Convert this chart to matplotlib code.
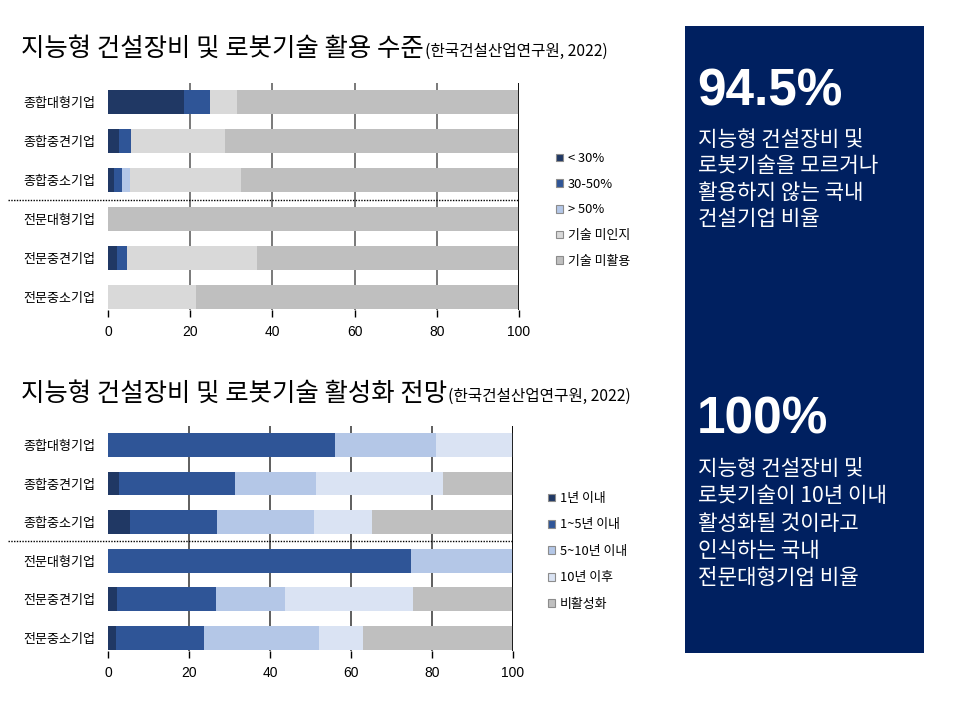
import matplotlib
matplotlib.use('Agg')
import matplotlib.pyplot as plt
import matplotlib.transforms as mtransforms
from matplotlib.patches import Rectangle
import numpy as np

plt.rcParams['font.family'] = ['Noto Sans CJK KR', 'DejaVu Sans']

# ---------------- data ----------------
categories = ['종합대형기업', '종합중견기업', '종합중소기업',
              '전문대형기업', '전문중견기업', '전문중소기업']

usage_labels = ['< 30%', '30-50%', '> 50%', '기술 미인지', '기술 미활용']
usage_lt30 = [18.5, 2.6, 1.5, 0.0, 2.1, 0.0]
usage_30_50 = [6.4, 3.0, 1.8, 0.0, 2.6, 0.0]
usage_gt50 = [0.0, 0.0, 2.0, 0.0, 0.0, 0.0]
usage_unaware = [6.4, 22.9, 27.0, 0.0, 31.6, 21.4]
usage_unused = [68.7, 71.5, 67.7, 100.0, 63.7, 78.6]

outlook_labels = ['1년 이내', '1~5년 이내', '5~10년 이내', '10년 이후', '비활성화']
outlook_1y = [0.0, 2.7, 5.4, 0.0, 2.1, 1.9]
outlook_1_5y = [56.1, 28.7, 21.6, 74.7, 24.5, 21.7]
outlook_5_10y = [24.9, 19.9, 23.8, 25.3, 17.0, 28.5]
outlook_10y_plus = [19.0, 31.5, 14.4, 0.0, 31.7, 10.9]
outlook_inactive = [0.0, 17.2, 34.8, 0.0, 24.7, 37.0]

xticks = [0, 20, 40, 60, 80, 100]

title1 = '지능형 건설장비 및 로봇기술 활용 수준'
title2 = '지능형 건설장비 및 로봇기술 활성화 전망'
source = '(한국건설산업연구원, 2022)'

stat1 = '94.5%'
desc1 = ['지능형 건설장비 및', '로봇기술을 모르거나', '활용하지 않는 국내', '건설기업 비율']
stat2 = '100%'
desc2 = ['지능형 건설장비 및', '로봇기술이 10년 이내', '활성화될 것이라고', '인식하는 국내', '전문대형기업 비율']

usage_colors = ['#203864', '#2F5597', '#B4C7E7', '#D9D9D9', '#BFBFBF']
outlook_colors = ['#203864', '#2F5597', '#B4C7E7', '#DAE3F3', '#BFBFBF']

W, H = 957, 709
fig = plt.figure(figsize=(W / 100, H / 100), dpi=100)


def fx(px):
    return px / W


def fy(py):
    return 1 - py / H


def draw_chart(ax, series, labels, colors, ylim, grid_color):
    y = np.arange(len(categories))
    left = np.zeros(len(categories))
    for vals, lab, col in zip(series, labels, colors):
        vals = np.asarray(vals, dtype=float)
        ax.barh(y, vals, left=left, height=0.62, color=col, label=lab,
                zorder=2, linewidth=0)
        left += vals
    ax.set_xlim(0, 100)
    ax.set_ylim(*ylim)
    ax.set_yticks(y)
    ax.set_yticklabels(categories, fontsize=9.4)
    ax.set_xticks(xticks)
    ax.set_xticklabels([str(t) for t in xticks], fontsize=10,
                       fontfamily='Liberation Sans')
    ax.tick_params(axis='y', length=0, pad=9)
    ax.tick_params(axis='x', direction='out', length=5, width=1,
                   color='black', pad=6)
    for s in ax.spines.values():
        s.set_visible(False)
    ax.set_axisbelow(True)
    ax.xaxis.grid(True, color=grid_color, linewidth=1.1, zorder=0)
    ax.get_xgridlines()[0].set_visible(False)
    ax.axvline(100, color='black', linewidth=1.2, zorder=3)
    # dotted separator between 종합 and 전문
    trans = mtransforms.blended_transform_factory(fig.transFigure, ax.transData)
    ax.plot([fx(8), ax.get_position().x1], [2.5, 2.5], transform=trans,
            color='black', linestyle=(0, (1, 1)), linewidth=1.0,
            clip_on=False, zorder=4)


# top chart: x 108..519, y 83..310
ax1 = fig.add_axes([fx(108), fy(310), fx(519) - fx(108), (310 - 83) / H])
draw_chart(ax1, [usage_lt30, usage_30_50, usage_gt50, usage_unaware, usage_unused],
           usage_labels, usage_colors, (5.33, -0.49), '#555555')

# bottom chart: x 108..513, y 426..651
ax2 = fig.add_axes([fx(108), fy(651), fx(513) - fx(108), (651 - 426) / H])
draw_chart(ax2, [outlook_1y, outlook_1_5y, outlook_5_10y, outlook_10y_plus, outlook_inactive],
           outlook_labels, outlook_colors, (5.34, -0.49), '#333333')


def add_legend(ax, x, ytop, spacing):
    handles, labs = ax.get_legend_handles_labels()
    leg = fig.legend(handles, labs, loc='upper left',
                     bbox_to_anchor=(fx(x), fy(ytop)),
                     bbox_transform=fig.transFigure,
                     frameon=False, fontsize=9.3, handlelength=0.55,
                     handleheight=0.55, handletextpad=0.35,
                     labelspacing=spacing, borderpad=0, borderaxespad=0)
    for h in leg.legend_handles:
        h.set_edgecolor('#8C8C8C')
        h.set_linewidth(0.8)
    return leg


add_legend(ax1, 556, 152, 0.98)
add_legend(ax2, 548, 492, 1.04)

# titles
renderer = fig.canvas.get_renderer()
for ttl, base in [(title1, 56), (title2, 401)]:
    t = fig.text(fx(21), fy(base), ttl, fontsize=18.3, fontweight='medium',
                 va='baseline', ha='left', color='black')
    bb = t.get_window_extent(renderer=renderer)
    fig.text(bb.x1 / W + fx(1), fy(base), source, fontsize=11.3,
             va='baseline', ha='left', color='black')

# right panel
fig.add_artist(Rectangle((fx(685), fy(653)), fx(924) - fx(685), (653 - 26) / H,
                         transform=fig.transFigure, facecolor='#002060',
                         edgecolor='none', zorder=0))

fig.text(fx(697), fy(105), stat1, fontsize=37, fontweight='bold',
         fontfamily='Liberation Sans', color='white', va='baseline', ha='left')
for i, line in enumerate(desc1):
    fig.text(fx(698), fy(140 + 26.3 * i), line, fontsize=15.3, color='white',
             va='center', ha='left')

fig.text(fx(697), fy(433), stat2, fontsize=37, fontweight='bold',
         fontfamily='Liberation Sans', color='white', va='baseline', ha='left')
for i, line in enumerate(desc2):
    fig.text(fx(698), fy(469 + 27.3 * i), line, fontsize=15.3, color='white',
             va='center', ha='left')

fig.savefig('out.png', dpi=100)
